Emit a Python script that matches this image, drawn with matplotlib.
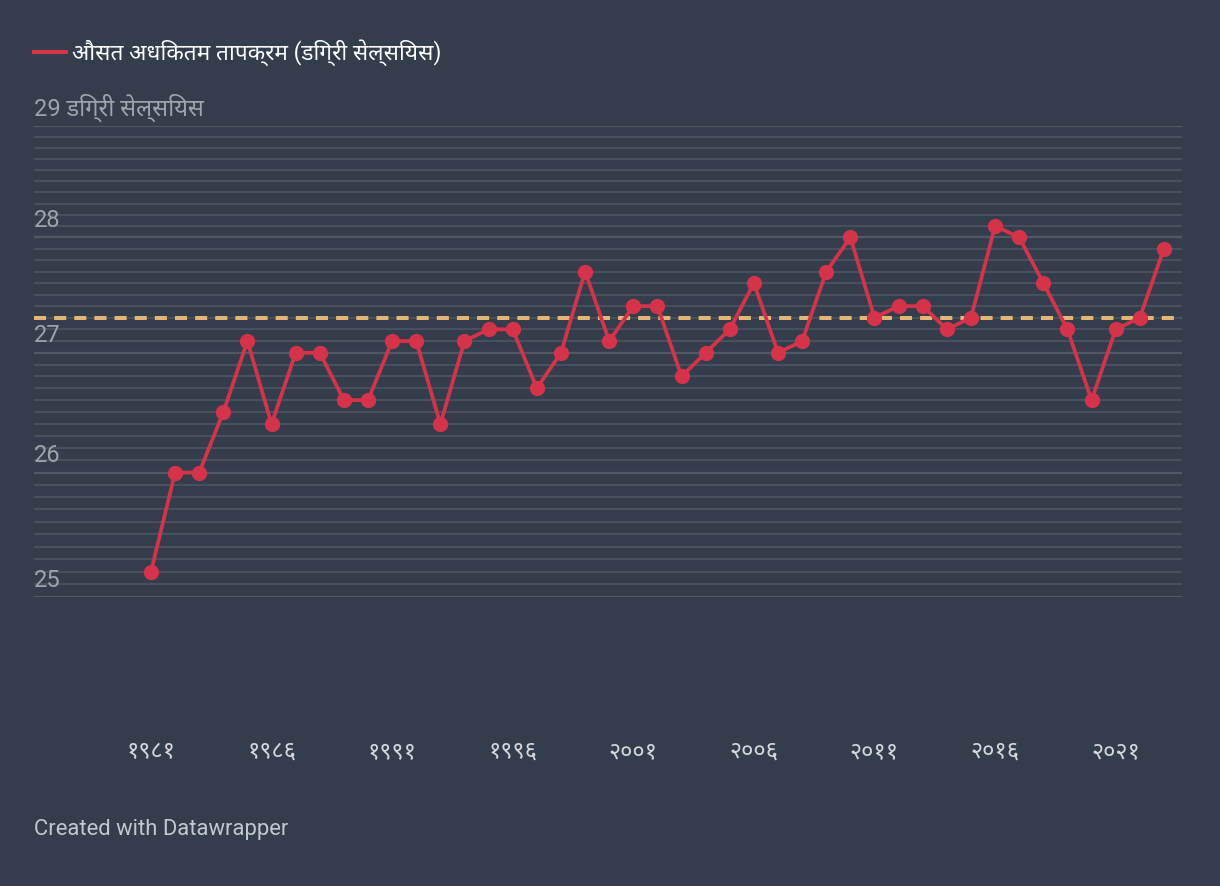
import numpy as np
import matplotlib
matplotlib.use("Agg")
import matplotlib.pyplot as plt
import matplotlib.transforms as mtransforms
from matplotlib import font_manager
from matplotlib.lines import Line2D
from matplotlib.ticker import FixedLocator, NullFormatter

# data
years = list(range(1981, 2024))
temps = [25.2, 26.0, 26.0, 26.5, 27.1, 26.4, 27.0, 27.0, 26.6, 26.6,
         27.1, 27.1, 26.4, 27.1, 27.2, 27.2, 26.7, 27.0, 27.7, 27.1,
         27.4, 27.4, 26.8, 27.0, 27.2, 27.6, 27.0, 27.1, 27.7, 28.0,
         27.3, 27.4, 27.4, 27.2, 27.3, 28.1, 28.0, 27.6, 27.2, 26.6,
         27.2, 27.3, 27.9]
reference = 27.3
y_ticks = [25, 26, 27, 28, 29]
y_labels = ["25", "26", "27", "28", "29 डिग्री सेल्सियस"]
x_ticks = [1981, 1986, 1991, 1996, 2001, 2006, 2011, 2016, 2021]
x_labels = ["१९८१", "१९८६", "१९९१", "१९९६", "२००१", "२००६", "२०११", "२०१६", "२०२१"]
series_name = "औसत अधिकतम तापक्रम (डिग्री सेल्सियस)"
footer = "Created with Datawrapper"

BG = "#333d4c"
RED = "#d6324a"
DASH = "#e4b673"
GRID = "#48525f"
GRID_MAJOR = "#4f5966"
TICK = "#9fa4aa"

# pick a Devanagari family that is actually installed
installed = {f.name for f in font_manager.fontManager.ttflist}
deva = next((n for n in ["Noto Sans Devanagari", "Mukta", "Hind", "FreeSans"]
             if n in installed), None)
families = ["Roboto"] + ([deva] if deva else []) + ["DejaVu Sans"]
plt.rcParams["font.family"] = families

fig = plt.figure(figsize=(12.2, 8.86), dpi=100, facecolor=BG)
ax = fig.add_axes([34 / 1220, (886 - 597) / 886, 1148 / 1220, 471 / 886])
ax.set_facecolor(BG)
ax.set_yscale("log")
ax.set_ylim(25, 29)
ax.set_xlim(1976.15, 2023.75)

for s in ax.spines.values():
    s.set_visible(False)

# horizontal grid, one line per 0.1 degree
ax.yaxis.set_major_locator(FixedLocator(y_ticks))
ax.yaxis.set_minor_locator(FixedLocator(np.round(np.arange(25.1, 29.0, 0.1), 1)))
ax.yaxis.set_major_formatter(NullFormatter())
ax.yaxis.set_minor_formatter(NullFormatter())
ax.grid(True, axis="y", which="minor", color=GRID, lw=1.4)
ax.grid(True, axis="y", which="major", color=GRID_MAJOR, lw=1.6)
ax.set_axisbelow(True)
ax.tick_params(axis="y", which="both", length=0, labelleft=False)

# y labels sit just above their grid line
lab_tr = mtransforms.offset_copy(ax.get_yaxis_transform(), fig=fig, y=7.5, units="points")
for v, lab in zip(y_ticks, y_labels):
    ax.text(0, v, lab, transform=lab_tr, ha="left", va="baseline",
            fontsize=17, color=TICK)

ax.set_xticks(x_ticks, x_labels)
ax.tick_params(axis="x", length=0, pad=103, labelsize=17, labelcolor="#d4d6d9")

ax.axhline(reference, color=DASH, lw=2.9, dashes=(3, 2), zorder=2)
ax.plot(years, temps, color=RED, lw=2.7, marker="o", markersize=10,
        zorder=3, clip_on=False)

handle = Line2D([], [], color=RED, lw=2.9)
fig.legend([handle], [series_name], loc="upper left",
           bbox_to_anchor=(34 / 1220, 1 - 39 / 886), frameon=False,
           borderpad=0, borderaxespad=0, handlelength=1.4, handletextpad=0.3,
           fontsize=16.3, labelcolor="#ffffff")

fig.text(34 / 1220, 1 - 829 / 886, footer, fontsize=15.8, color="#c4c8cd",
         ha="left", va="center")

fig.savefig("out.png", dpi=100, facecolor=BG)
